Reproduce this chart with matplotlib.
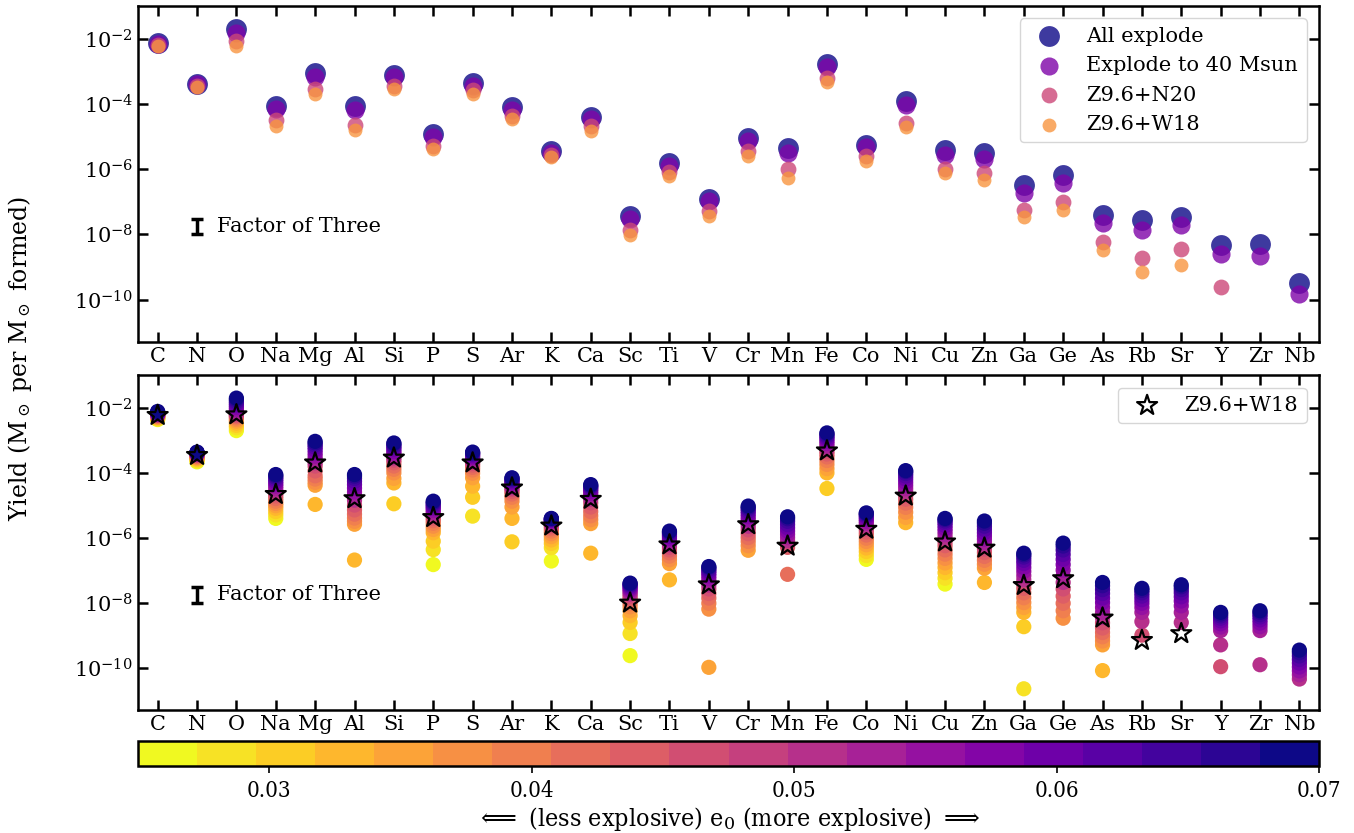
import numpy as np
import matplotlib
matplotlib.use('Agg')
import matplotlib.pyplot as plt
from matplotlib.ticker import FixedLocator, NullLocator

plt.rcParams['font.family'] = 'DejaVu Serif'
plt.rcParams['mathtext.fontset'] = 'dejavuserif'
plt.rcParams['font.size'] = 15

nan = np.nan

elements = ['C', 'N', 'O', 'Na', 'Mg', 'Al', 'Si', 'P', 'S', 'Ar', 'K', 'Ca', 'Sc', 'Ti', 'V',
            'Cr', 'Mn', 'Fe', 'Co', 'Ni', 'Cu', 'Zn', 'Ga', 'Ge', 'As', 'Rb', 'Sr', 'Y', 'Zr', 'Nb']

# top panel, log10 yield per element
all_explode = [-2.13, -3.38, -1.72, -4.06, -3.04, -4.06, -3.10, -4.93, -3.36, -4.11, -5.44, -4.39, -7.44, -5.82, -6.91,
               -5.06, -5.36, -2.78, -5.26, -3.91, -5.42, -5.52, -6.49, -6.18, -7.42, -7.57, -7.47, -8.34, -8.31, -9.50]
explode_40 = [-2.16, -3.40, -1.82, -4.15, -3.18, -4.18, -3.17, -5.01, -3.45, -4.18, -5.50, -4.47, -7.54, -5.90, -6.98,
              -5.14, -5.52, -2.88, -5.33, -4.03, -5.57, -5.70, -6.73, -6.42, -7.65, -7.86, -7.70, -8.59, -8.65, -9.83]
z96_n20 = [-2.20, -3.44, -2.08, -4.51, -3.55, -4.65, -3.44, -5.28, -3.59, -4.36, -5.58, -4.68, -7.88, -6.08, -7.28,
           -5.44, -6.00, -3.21, -5.60, -4.58, -6.00, -6.13, -7.26, -7.02, -8.24, -8.72, -8.44, -9.60, nan, nan]
z96_w18 = [-2.24, -3.47, -2.22, -4.67, -3.70, -4.80, -3.55, -5.38, -3.70, -4.47, -5.64, -4.82, -8.01, -6.22, -7.45,
           -5.60, -6.26, -3.33, -5.74, -4.72, -6.13, -6.32, -7.47, -7.26, -8.47, -9.16, -8.95, nan, nan, nan]

# bottom panel: log10 yield for each e0
e0 = [0.025, 0.0275, 0.03, 0.0325, 0.035, 0.0375, 0.04, 0.0425, 0.045, 0.0475,
      0.05, 0.0525, 0.055, 0.0575, 0.06, 0.0625, 0.065, 0.0675, 0.07]

y_C = [-2.37, -2.35, -2.33, -2.31, -2.30, -2.28, -2.27, -2.25, -2.24, -2.23, -2.22, -2.21, -2.20, -2.19, -2.18, -2.16, -2.15, -2.14, -2.12]
y_N = [-3.67, -3.63, -3.60, -3.57, -3.55, -3.53, -3.51, -3.49, -3.47, -3.46, -3.44, -3.43, -3.42, -3.41, -3.40, -3.39, -3.39, -3.38, -3.37]
y_O = [-2.71, -2.62, -2.55, -2.48, -2.42, -2.37, -2.32, -2.28, -2.25, -2.22, -2.18, -2.12, -2.06, -2.00, -1.94, -1.88, -1.82, -1.76, -1.71]
y_Na = [-5.41, -5.30, -5.20, -5.10, -5.02, -4.95, -4.88, -4.80, -4.72, -4.65, -4.58, -4.50, -4.42, -4.35, -4.28, -4.21, -4.15, -4.10, -4.06]
y_Mg = [nan, nan, nan, -4.98, -4.39, -4.30, -4.20, -4.10, -3.95, -3.80, -3.70, -3.60, -3.50, -3.40, -3.30, -3.22, -3.15, -3.09, -3.04]
y_Al = [nan, nan, nan, -6.69, -5.59, -5.50, -5.40, -5.28, -5.15, -5.00, -4.85, -4.72, -4.60, -4.48, -4.37, -4.27, -4.18, -4.11, -4.06]
y_Si = [nan, nan, -4.96, -4.32, -4.18, -4.01, -3.90, -3.80, -3.70, -3.62, -3.55, -3.48, -3.41, -3.35, -3.28, -3.22, -3.17, -3.12, -3.09]
y_P = [-6.83, -6.37, -6.11, -5.85, -5.75, -5.65, -5.56, -5.48, -5.41, -5.35, -5.29, -5.23, -5.17, -5.11, -5.06, -5.01, -4.96, -4.92, -4.88]
y_S = [nan, -5.34, -4.76, -4.42, -4.16, -4.02, -3.92, -3.84, -3.77, -3.71, -3.66, -3.61, -3.56, -3.52, -3.48, -3.44, -3.41, -3.39, -3.37]
y_Ar = [nan, nan, -6.13, -5.41, -5.06, -4.88, -4.76, -4.66, -4.58, -4.52, -4.47, -4.42, -4.37, -4.32, -4.28, -4.24, -4.21, -4.18, -4.16]
y_K = [-6.72, -6.31, -6.18, -6.07, -5.97, -5.88, -5.80, -5.73, -5.67, -5.62, -5.58, -5.54, -5.51, -5.48, -5.46, -5.44, -5.43, -5.42, -5.41]
y_Ca = [nan, nan, nan, -6.48, -5.57, -5.45, -5.33, -5.20, -5.06, -4.93, -4.82, -4.73, -4.65, -4.58, -4.52, -4.47, -4.43, -4.40, -4.37]
y_Sc = [-9.63, -8.95, -8.61, -8.40, -8.25, -8.13, -8.03, -7.95, -7.88, -7.81, -7.74, -7.68, -7.62, -7.57, -7.52, -7.48, -7.45, -7.42, -7.40]
y_Ti = [nan, nan, nan, -7.30, -6.80, -6.68, -6.57, -6.47, -6.38, -6.30, -6.22, -6.15, -6.08, -6.02, -5.96, -5.91, -5.86, -5.83, -5.80]
y_V = [nan, nan, nan, nan, -9.99, -8.20, -8.02, -7.86, -7.72, -7.58, -7.46, -7.36, -7.27, -7.18, -7.10, -7.03, -6.97, -6.92, -6.89]
y_Cr = [nan, nan, nan, nan, -6.39, -6.25, -6.12, -6.00, -5.88, -5.76, -5.65, -5.55, -5.45, -5.36, -5.27, -5.19, -5.12, -5.07, -5.03]
y_Mn = [nan, nan, nan, nan, nan, nan, nan, -7.13, -6.30, -6.20, -6.10, -6.00, -5.90, -5.80, -5.70, -5.60, -5.50, -5.42, -5.36]
y_Fe = [nan, nan, -4.49, -4.01, -3.88, -3.75, -3.63, -3.52, -3.43, -3.35, -3.27, -3.19, -3.11, -3.04, -2.97, -2.91, -2.86, -2.81, -2.78]
y_Co = [-6.67, -6.55, -6.43, -6.32, -6.22, -6.12, -6.02, -5.92, -5.83, -5.74, -5.65, -5.57, -5.50, -5.44, -5.38, -5.33, -5.29, -5.26, -5.24]
y_Ni = [nan, nan, nan, -5.54, -5.38, -5.22, -5.07, -4.94, -4.82, -4.71, -4.60, -4.50, -4.40, -4.30, -4.20, -4.11, -4.03, -3.97, -3.94]
y_Cu = [-7.43, -7.25, -7.08, -6.92, -6.78, -6.64, -6.51, -6.38, -6.25, -6.13, -6.02, -5.91, -5.81, -5.72, -5.63, -5.55, -5.49, -5.44, -5.41]
y_Zn = [nan, nan, nan, -7.38, -6.94, -6.82, -6.70, -6.58, -6.46, -6.35, -6.25, -6.15, -6.05, -5.95, -5.85, -5.75, -5.65, -5.56, -5.49]
y_Ga = [nan, -10.65, -8.74, -8.30, -8.15, -8.00, -7.85, -7.70, -7.56, -7.43, -7.30, -7.17, -7.04, -6.92, -6.80, -6.70, -6.60, -6.53, -6.48]
y_Ge = [nan, nan, nan, nan, nan, -8.48, -8.25, -8.02, -7.80, -7.58, -7.38, -7.18, -7.00, -6.83, -6.67, -6.52, -6.38, -6.26, -6.17]
y_As = [nan, nan, nan, -10.09, -9.30, -9.18, -9.05, -8.92, -8.78, -8.62, -8.46, -8.30, -8.15, -8.00, -7.86, -7.72, -7.60, -7.48, -7.38]
y_Rb = [nan, nan, nan, nan, nan, nan, nan, nan, nan, -9.00, -8.58, -8.30, -8.15, -8.02, -7.91, -7.80, -7.70, -7.62, -7.56]
y_Sr = [nan, nan, nan, nan, nan, nan, nan, nan, nan, nan, -8.61, -8.30, -8.10, -7.95, -7.82, -7.70, -7.60, -7.51, -7.45]
y_Y = [nan, nan, nan, nan, nan, nan, nan, nan, nan, -9.97, -9.30, -8.86, -8.75, -8.65, -8.56, -8.48, -8.41, -8.35, -8.30]
y_Zr = [nan, nan, nan, nan, nan, nan, nan, nan, nan, nan, -9.91, -8.86, -8.74, -8.63, -8.53, -8.44, -8.37, -8.30, -8.25]
y_Nb = [nan, nan, nan, nan, nan, nan, nan, nan, nan, nan, -10.35, -10.22, -10.10, -9.98, -9.86, -9.75, -9.64, -9.54, -9.46]

e0_yields = [y_C, y_N, y_O, y_Na, y_Mg, y_Al, y_Si, y_P, y_S, y_Ar, y_K, y_Ca, y_Sc, y_Ti, y_V,
             y_Cr, y_Mn, y_Fe, y_Co, y_Ni, y_Cu, y_Zn, y_Ga, y_Ge, y_As, y_Rb, y_Sr, y_Y, y_Zr, y_Nb]

x = np.arange(len(elements))
ylim = (5e-12, 1e-1)

fig = plt.figure(figsize=(13.54, 8.33), dpi=100)
ax1 = fig.add_axes([0.1019, 0.5894, 0.8723, 0.4034])
ax2 = fig.add_axes([0.1019, 0.1477, 0.8723, 0.4021])
cax = fig.add_axes([0.1019, 0.0804, 0.8723, 0.0300])

pl = plt.get_cmap('plasma')
top_cols = [pl(0.0), pl(0.25), pl(0.5), pl(0.75)]
top_sizes = [225, 170, 130, 100]
top_labels = ['All explode', 'Explode to 40 Msun', 'Z9.6+N20', 'Z9.6+W18']
for vals, col, s, lab in zip([all_explode, explode_40, z96_n20, z96_w18], top_cols, top_sizes, top_labels):
    ax1.scatter(x, 10**np.array(vals), s=s, color=col, alpha=0.8, lw=0, label=lab)
ax1.legend(loc='upper right', fontsize=15, borderaxespad=0.6)

# bottom panel: one scatter per e0 (low to high so high e0 is on top)
cmap = plt.get_cmap('plasma_r', 20)
arr = 10**np.array(e0_yields)
for k, e in enumerate(e0):
    ax2.scatter(x, arr[:, k], s=120, c=[e]*len(x), cmap=cmap, vmin=0.025, vmax=0.07, lw=0)
ax2.scatter(x, 10**np.array(z96_w18), marker='*', s=230, facecolors='none', edgecolors='k',
            linewidths=1.6, label='Z9.6+W18', zorder=5)
ax2.legend(loc='upper right', fontsize=15, borderaxespad=0.6)

for ax in (ax1, ax2):
    ax.set_yscale('log')
    ax.set_ylim(*ylim)
    ax.set_xlim(-0.5, len(elements) - 0.5)
    ax.set_xticks(x)
    ax.set_xticklabels(elements, fontsize=15)
    ax.yaxis.set_major_locator(FixedLocator([1e-10, 1e-8, 1e-6, 1e-4, 1e-2]))
    ax.yaxis.set_minor_locator(NullLocator())
    ax.tick_params(direction='in', top=True, right=True, length=7, width=1.8, labelsize=15)
    for sp in ax.spines.values():
        sp.set_linewidth(1.8)
    # factor of three bar
    yc = np.sqrt(3) * 1e-8
    ax.errorbar([1], [yc], yerr=[[yc - 1e-8], [3e-8 - yc]], fmt='none', ecolor='k',
                elinewidth=2.5, capsize=4.5, capthick=2.5)
    ax.text(1.5, yc, 'Factor of Three', va='center', fontsize=15)

sm = plt.cm.ScalarMappable(cmap=cmap, norm=plt.Normalize(0.025, 0.07))
cb = fig.colorbar(sm, cax=cax, orientation='horizontal', ticks=[0.03, 0.04, 0.05, 0.06, 0.07])
cb.outline.set_linewidth(1.8)
cax.tick_params(length=5, width=1.2, pad=5)
for t in cax.get_xticklabels():
    t.set_fontsize(16)
    t.set_fontstretch('condensed')
cb.set_label(r'$\Longleftarrow$ (less explosive) e$_0$ (more explosive) $\Longrightarrow$',
             fontsize=18, fontstretch='condensed', labelpad=2)

fig.text(0.015, 0.57, r'Yield (M$_\odot$ per M$_\odot$ formed)', rotation=90,
         va='center', ha='center', fontsize=17)

fig.savefig('out.png', dpi=100)
